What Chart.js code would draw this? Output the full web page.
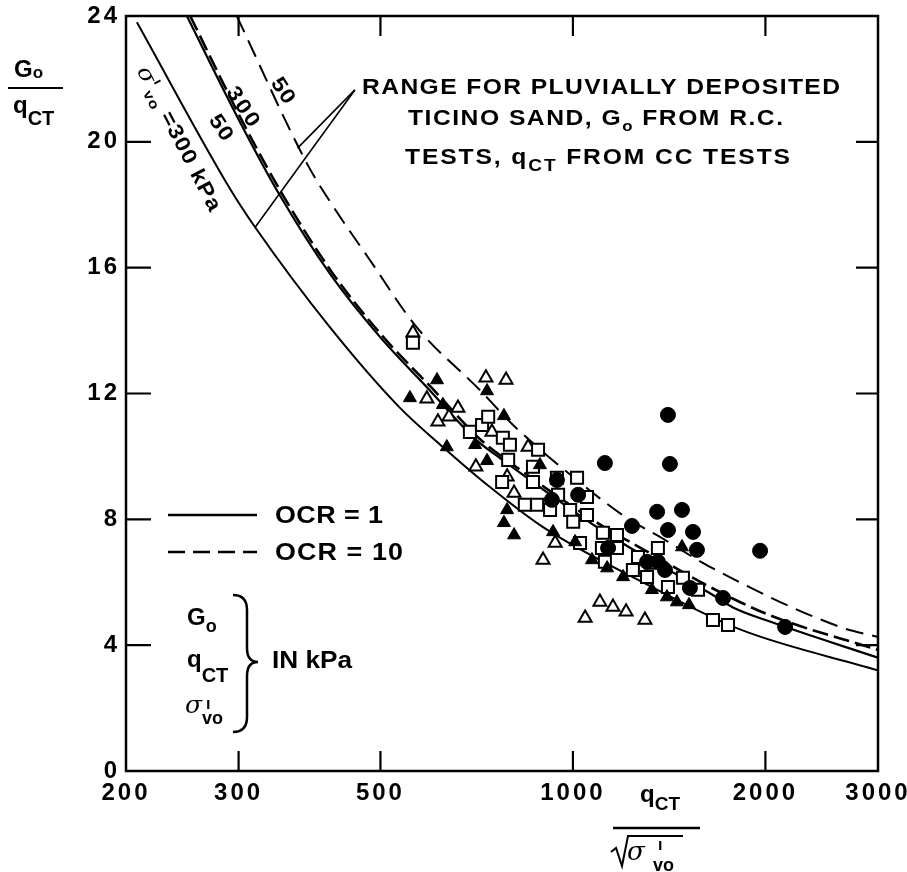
<!DOCTYPE html>
<html>
<head>
<meta charset="utf-8">
<script src="https://cdn.jsdelivr.net/npm/chart.js@4.4.1/dist/chart.umd.min.js"></script>
<style>
  html, body { margin: 0; padding: 0; background: #fff; }
  #wrap { width: 907px; height: 872px; }
</style>
</head>
<body>
<div id="wrap"><canvas id="chart" width="907" height="872"></canvas></div>
<script>
// --- axes ---
const xTicks = [200, 300, 500, 1000, 2000, 3000];
const xInnerTicks = [300, 500, 1000, 2000];
const yInnerTicks = [4, 8, 12, 16, 20];

// --- curves: [qCT/sqrt(s'vo), Go/qCT] ---
const ocr1s300 = [[208, 23.8], [291, 18.5], [318, 17.3], [417, 14.1], [536, 11.55], [626, 10.3], [734, 9.1],
  [898, 7.75], [1300, 5.95], [1825, 4.5], [3000, 3.2]];
const ocr1s50 = [[249, 24.0], [302, 20.6], [348, 18.3], [417, 15.8], [499, 13.8], [591, 12.2], [708, 10.5],
  [769, 9.95], [1100, 7.7], [1300, 6.8], [1638, 5.65], [1780, 5.2], [2033, 4.75], [3000, 3.6]];
const ocr10s300 = [[252, 24.0], [305, 20.6], [352, 18.3], [420, 15.85], [505, 13.8], [600, 12.2], [720, 10.5],
  [780, 9.95], [1100, 7.85], [1300, 7.0], [1638, 5.85], [2033, 4.95], [3000, 3.85]];
const ocr10s50 = [[298, 24.0], [384, 19.3], [417, 18.1], [481, 16.25], [570, 14.1], [716, 12.1], [806, 11.0],
  [1075, 8.84], [1215, 8.04], [1368, 7.44], [1638, 6.49], [2616, 4.58], [3000, 4.26]];

// pointer lines of the "RANGE ..." note
const pointerA = [[456, 21.65], [371, 19.8]];
const pointerB = [[456, 21.65], [318, 17.27]];

// --- test points ---
const openTriangles = [[562, 13.93], [591, 11.83], [615, 11.1], [640, 11.26], [661, 11.54], [731, 12.5], [786, 12.43],
  [747, 10.78], [851, 10.3], [705, 9.67], [789, 9.35], [809, 8.84], [898, 6.71], [938, 7.25], [1102, 5.37],
  [1155, 5.21], [1211, 5.06], [1045, 4.86], [1296, 4.8], [1329, 6.55]];
const filledTriangles = [[556, 11.86], [613, 12.43], [626, 11.64], [734, 12.08], [780, 11.29], [635, 10.3], [703, 10.37],
  [734, 9.86], [888, 9.73], [789, 8.3], [780, 7.89], [809, 7.5], [931, 7.6], [1008, 7.28], [1071, 6.71],
  [1131, 6.45], [1198, 6.17], [1329, 5.76], [1403, 5.53], [1454, 5.37], [1519, 5.28], [1481, 7.12]];
const openSquares = [[562, 13.61], [690, 10.78], [721, 11.0], [737, 11.26], [777, 10.59], [797, 10.37], [792, 9.89],
  [882, 10.21], [866, 9.67], [775, 9.19], [866, 9.19], [841, 8.46], [879, 8.46], [944, 9.32], [1015, 9.32],
  [1052, 8.71], [948, 8.78], [990, 8.3], [1001, 7.92], [1052, 8.14], [921, 8.3], [1026, 7.25], [1114, 7.57],
  [1172, 7.5], [1110, 7.09], [1172, 7.09], [1122, 6.65], [1264, 6.8], [1358, 7.09], [1241, 6.39], [1306, 6.17],
  [1408, 5.85], [1486, 6.14], [1569, 5.76], [1656, 4.8], [1748, 4.64]];
const filledCircles = [[1408, 11.32], [1122, 9.79], [1418, 9.76], [1354, 8.24], [1481, 8.3], [1237, 7.79], [1408, 7.66],
  [1541, 7.6], [1563, 7.03], [1962, 7.0], [1717, 5.5], [2147, 4.58], [944, 9.25], [1019, 8.78], [927, 8.62],
  [1135, 7.09], [1306, 6.65], [1358, 6.65], [1524, 5.82], [1393, 6.39]];

const SANS = '"Liberation Sans", Arial, sans-serif';
const SERIF = '"DejaVu Serif", serif';

const toXY = arr => arr.map(p => ({ x: p[0], y: p[1] }));

function curve(pts, dash, width) {
  return {
    type: 'line', data: toXY(pts), borderColor: '#000', borderWidth: width, borderDash: dash,
    pointRadius: 0, fill: false, cubicInterpolationMode: 'monotone', order: 2
  };
}
function marks(pts, style, filled, r) {
  return {
    type: 'scatter', data: toXY(pts), pointStyle: style, pointRadius: r, pointHoverRadius: r,
    backgroundColor: filled ? '#000' : '#fff', borderColor: '#000', borderWidth: filled ? 1 : 2, order: 1
  };
}

// text in pieces: {t, z (size), dy, it (italic serif)}; stretched a little, then spaced, to a width if given
function drawParts(ctx, parts, x, y, size, align, target) {
  ctx.save();
  ctx.fillStyle = '#000';
  ctx.textAlign = 'left';
  ctx.textBaseline = 'alphabetic';
  ctx.letterSpacing = '0px';
  const fonts = parts.map(p => (p.it ? 'italic ' : 'bold ') + (p.z || size) + 'px ' + (p.it ? SERIF : SANS));
  let nat = 0, n = 0;
  const widths = parts.map((p, i) => { ctx.font = fonts[i]; const w = ctx.measureText(p.t).width; nat += w; n += p.t.length; return w; });
  const sx = target ? Math.min(Math.max(target / nat, 1), 1.12) : 1;
  const ls = target ? (target - nat * sx) / Math.max(n - 1, 1) / sx : 0;
  const total = (nat + ls * (n - 1)) * sx;
  let cx = align === 'center' ? x - total / 2 : align === 'right' ? x - total : x;
  ctx.translate(cx, y);
  ctx.scale(sx, 1);
  ctx.letterSpacing = ls + 'px';
  let px = 0;
  parts.forEach((p, i) => {
    ctx.font = fonts[i];
    ctx.fillText(p.t, px, p.dy || 0);
    px += widths[i] + ls * p.t.length;
  });
  ctx.restore();
}

function rotated(ctx, parts, cx, cy, deg, size, target) {
  ctx.save();
  ctx.translate(cx, cy);
  ctx.rotate(deg * Math.PI / 180);
  drawParts(ctx, parts, 0, size * 0.36, size, 'center', target);
  ctx.restore();
}

const framePlugin = {
  id: 'frame',
  beforeDatasetsDraw(chart) {
    const { ctx, chartArea: a, scales: { x, y } } = chart;
    ctx.save();
    ctx.strokeStyle = '#000';
    ctx.lineWidth = 2.5;
    ctx.strokeRect(a.left, a.top, a.right - a.left, a.bottom - a.top);
    ctx.lineWidth = 2.2;
    ctx.beginPath();
    yInnerTicks.forEach(v => {
      const py = y.getPixelForValue(v);
      ctx.moveTo(a.left, py); ctx.lineTo(a.left + 25, py);
      ctx.moveTo(a.right, py); ctx.lineTo(a.right - 22, py);
    });
    xInnerTicks.forEach(v => {
      const px = x.getPixelForValue(v);
      ctx.moveTo(px, a.bottom); ctx.lineTo(px, a.bottom - 20);
      ctx.moveTo(px, a.top); ctx.lineTo(px, a.top + 20);
    });
    ctx.stroke();
    ctx.restore();
  },
  beforeDraw(chart) { chart.ctx.letterSpacing = '3px'; },
  afterDraw(chart) {
    const ctx = chart.ctx;
    ctx.letterSpacing = '0px';
    ctx.save();
    ctx.strokeStyle = '#000';
    ctx.fillStyle = '#000';

    // y axis title Go / qCT
    drawParts(ctx, [{ t: 'G' }, { t: 'o', z: 17, dy: 1 }], 14, 77, 24, 'left');
    ctx.lineWidth = 2;
    ctx.beginPath(); ctx.moveTo(8, 88); ctx.lineTo(63, 88); ctx.stroke();
    drawParts(ctx, [{ t: 'q' }, { t: 'CT', z: 20, dy: 12 }], 13, 113, 24, 'left');

    // x axis title qCT / sqrt(s'vo)
    drawParts(ctx, [{ t: 'q' }, { t: 'CT', z: 19, dy: 8 }], 640, 802, 24, 'left');
    ctx.lineWidth = 2.5;
    ctx.beginPath(); ctx.moveTo(613, 828); ctx.lineTo(700, 828); ctx.stroke();
    ctx.lineWidth = 2;
    ctx.beginPath();
    ctx.moveTo(611, 852); ctx.lineTo(616, 848); ctx.lineTo(622, 866); ctx.lineTo(628, 836); ctx.lineTo(683, 836);
    ctx.stroke();
    drawParts(ctx, [{ t: 'σ', it: true, z: 26 }], 627, 860, 26, 'left');
    drawParts(ctx, [{ t: 'ı', z: 16 }], 658, 850, 16, 'left');
    drawParts(ctx, [{ t: 'vo', z: 18 }], 653, 871, 18, 'left');

    // note
    drawParts(ctx, [{ t: 'RANGE FOR PLUVIALLY DEPOSITED' }], 362, 94, 22, 'left', 478);
    drawParts(ctx, [{ t: 'TICINO SAND, G' }, { t: 'o', z: 15, dy: 6 }, { t: ' FROM R.C.' }], 408, 125, 22, 'left', 375);
    drawParts(ctx, [{ t: 'TESTS, q' }, { t: 'CT', z: 17, dy: 7 }, { t: ' FROM CC TESTS' }], 405, 164, 22, 'left', 385);

    // curve labels
    rotated(ctx, [{ t: 'σ', it: true, z: 22 }, { t: 'ı', z: 13, dy: -10 }, { t: 'vo', z: 14, dy: 5 }, { t: ' =300 kPa' }],
      180, 138, 62.6, 21, 160);
    rotated(ctx, [{ t: '50' }], 222, 127, 57, 21, 27);
    rotated(ctx, [{ t: '300' }], 244, 106, 57, 21, 44);
    rotated(ctx, [{ t: '50' }], 284, 90, 57, 21, 27);

    // legend
    ctx.lineWidth = 2.5;
    ctx.beginPath(); ctx.moveTo(168, 515); ctx.lineTo(257, 515); ctx.stroke();
    ctx.setLineDash([17, 8]);
    ctx.beginPath(); ctx.moveTo(168, 552); ctx.lineTo(257, 552); ctx.stroke();
    ctx.setLineDash([]);
    drawParts(ctx, [{ t: 'OCR = 1' }], 275, 523, 24, 'left', 108);
    drawParts(ctx, [{ t: 'OCR = 10' }], 275, 560, 24, 'left', 128);

    // units block
    drawParts(ctx, [{ t: 'G' }, { t: 'o', z: 18, dy: 7 }], 187, 625, 24, 'left');
    drawParts(ctx, [{ t: 'q' }, { t: 'CT', z: 20, dy: 15 }], 187, 667, 24, 'left');
    drawParts(ctx, [{ t: 'σ', it: true, z: 25 }], 185, 713, 25, 'left');
    drawParts(ctx, [{ t: 'ı', z: 16 }], 206, 709, 16, 'left');
    drawParts(ctx, [{ t: 'vo', z: 18 }], 202, 724, 18, 'left');
    ctx.lineWidth = 2.5;
    ctx.beginPath();
    ctx.moveTo(233, 595);
    ctx.quadraticCurveTo(247, 595, 247, 610);
    ctx.lineTo(247, 648);
    ctx.quadraticCurveTo(247, 662, 258, 662);
    ctx.quadraticCurveTo(247, 662, 247, 676);
    ctx.lineTo(247, 717);
    ctx.quadraticCurveTo(247, 732, 233, 732);
    ctx.stroke();
    drawParts(ctx, [{ t: 'IN kPa' }], 272, 668, 24, 'left', 80);
    ctx.restore();
  }
};

new Chart(document.getElementById('chart'), {
  type: 'scatter',
  data: {
    datasets: [
      marks(filledCircles, 'circle', true, 7.5),
      marks(filledTriangles, 'triangle', true, 7.5),
      marks(openSquares, 'rect', false, 8.5),
      marks(openTriangles, 'triangle', false, 7.5),
      curve(ocr1s300, [], 2),
      curve(ocr1s50, [], 2.2),
      curve(ocr10s300, [16, 6], 2.6),
      curve(ocr10s50, [18, 9], 2),
      curve(pointerA, [], 1.6),
      curve(pointerB, [], 1.6)
    ]
  },
  options: {
    responsive: false,
    animation: false,
    devicePixelRatio: 1,
    layout: { padding: { top: 16, right: 29, left: 0, bottom: 0 } },
    plugins: { legend: { display: false }, tooltip: { enabled: false } },
    scales: {
      x: {
        type: 'logarithmic', min: 200, max: 3000,
        grid: { display: false, drawTicks: false },
        border: { display: false },
        afterBuildTicks: s => { s.ticks = xTicks.map(v => ({ value: v })); },
        afterFit: s => { s.height = 101; s.paddingLeft = 0; s.paddingRight = 0; },
        ticks: {
          color: '#000', padding: 8, maxRotation: 0, autoSkip: false,
          font: { family: SANS, size: 24, weight: 'bold' },
          callback: v => String(v)
        }
      },
      y: {
        min: 0, max: 24,
        grid: { display: false, drawTicks: false },
        border: { display: false },
        afterFit: s => { s.width = 126; s.paddingTop = 0; s.paddingBottom = 0; },
        ticks: {
          stepSize: 4, color: '#000', padding: 6,
          font: { family: SANS, size: 24, weight: 'bold' },
          callback: v => String(v)
        }
      }
    }
  },
  plugins: [framePlugin]
});
</script>
</body>
</html>
